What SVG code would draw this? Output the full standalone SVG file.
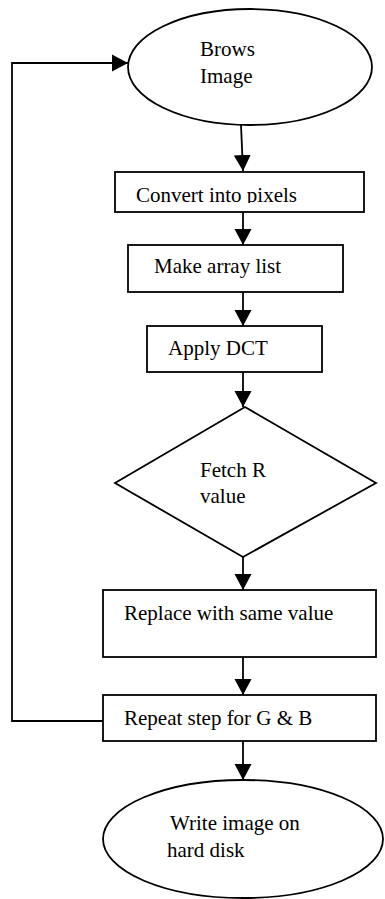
<svg xmlns="http://www.w3.org/2000/svg" width="385" height="899" viewBox="0 0 385 899">
<style>
.s{fill:#fff;stroke:#000;stroke-width:1.8}
.c{fill:none;stroke:#000;stroke-width:1.8}
.t{font-size:21px;fill:#000}
</style>
<defs>
<marker id="ah" markerWidth="18" markerHeight="18" viewBox="0 0 18 18" refX="16" refY="9" orient="auto" markerUnits="userSpaceOnUse">
<path d="M0,0.5 L16,9 L0,17.5 Z" fill="#000"/>
</marker>
<clipPath id="clipConv"><rect x="115" y="172" width="249" height="31"/></clipPath>
</defs>
<rect width="385" height="899" fill="#fff"/>
<g font-family="'Liberation Serif', 'DejaVu Serif', serif">
<g id="n1"><ellipse class="s" cx="250" cy="67" rx="122" ry="58"/><text class="t" x="200" y="56">Brows</text><text class="t" x="200" y="83">Image</text></g>
<g id="n2"><rect class="s" x="115" y="172" width="249" height="40"/><text class="t" x="136" y="202" clip-path="url(#clipConv)">Convert into pixels</text></g>
<g id="n3"><rect class="s" x="128" y="245" width="215" height="47"/><text class="t" x="154" y="273">Make array list</text></g>
<g id="n4"><rect class="s" x="147" y="326" width="175" height="46"/><text class="t" x="168" y="355">Apply DCT</text></g>
<g id="n5"><polygon class="s" points="245,407 376,483 243,557 115,483"/><text class="t" x="200" y="477">Fetch R</text><text class="t" x="200" y="503">value</text></g>
<g id="n6"><rect class="s" x="103" y="590" width="273" height="67"/><text class="t" x="124" y="620">Replace with same value</text></g>
<g id="n7"><rect class="s" x="103" y="695" width="273" height="46"/><text class="t" x="124" y="725">Repeat step for G &amp; B</text></g>
<g id="n8"><ellipse class="s" cx="243" cy="839" rx="140" ry="59"/><text class="t" x="170" y="830">Write image on</text><text class="t" x="167" y="857">hard disk</text></g>
</g>
<g id="connectors">
<line class="c" x1="241" y1="125" x2="243" y2="171" marker-end="url(#ah)"/>
<line class="c" x1="243" y1="212" x2="243" y2="245" marker-end="url(#ah)"/>
<line class="c" x1="243" y1="292" x2="243" y2="326" marker-end="url(#ah)"/>
<line class="c" x1="243" y1="372" x2="243" y2="407" marker-end="url(#ah)"/>
<line class="c" x1="243" y1="557" x2="243" y2="590" marker-end="url(#ah)"/>
<line class="c" x1="243" y1="657" x2="243" y2="695" marker-end="url(#ah)"/>
<line class="c" x1="243" y1="741" x2="243" y2="780" marker-end="url(#ah)"/>
<polyline class="c" points="103,721 12,721 12,63 128,63" marker-end="url(#ah)"/>
</g>
</svg>
